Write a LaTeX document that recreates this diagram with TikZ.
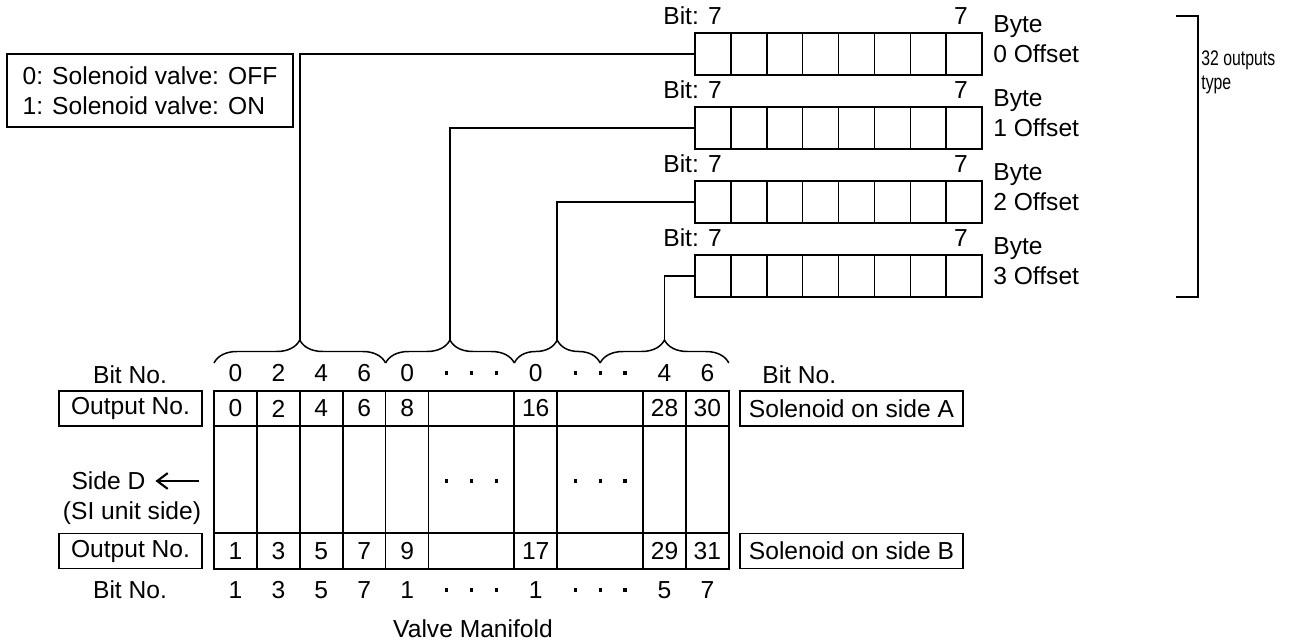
\documentclass[tikz,border=0pt]{standalone}
\usepackage{fontspec}
\setmainfont{Liberation Sans}
\newfontfamily\narrowfont[FakeStretch=0.75]{Liberation Sans}
\usetikzlibrary{arrows.meta, positioning, decorations.pathreplacing}

\newcommand{\tridots}{\rule{1.8pt}{1.8pt}\hspace{12.4pt}\rule{1.8pt}{1.8pt}\hspace{12.4pt}\rule{1.8pt}{1.8pt}}

\begin{document}
\begin{tikzpicture}[
    x=0.02cm, y=-0.02cm,
    txt/.style={font=\fontsize{14}{17}\selectfont, inner sep=0pt},
    tagbox/.style={draw, line width=0.85pt, txt, minimum height=0.7cm},
    bytebox/.style={draw, line width=0.85pt, minimum width=5.74cm, minimum height=0.84cm, inner sep=0pt},
    grid/.style={line width=1pt},
    link/.style={line width=0.85pt},
    curly/.style={decorate, decoration={brace, amplitude=0.46cm}, line width=0.85pt}
]
\useasboundingbox (0,0) rectangle (1298,641);

% legend
\node[tagbox, minimum width=5.72cm, minimum height=1.46cm, align=left] (legend) at (150,90.5) {0: Solenoid valve: OFF\\1: Solenoid valve: ON};

% byte boxes
\foreach \b/\yc in {0/54, 1/128, 2/202, 3/276} {
    \node[bytebox] (byte\b) at (838.5,\yc) {};
    \foreach \k in {1,...,7}
        \draw[link] ({695+35.875*\k},\yc-21) -- ({695+35.875*\k},\yc+21);
    \node[txt, anchor=west] (bitl\b) at (663,\yc-38) {Bit: 7};
    \node[txt] (bitr\b) at (961,\yc-38) {7};
    \node[txt, anchor=west, align=left] (offs\b) at (993,\yc-15) {Byte\\\b\ Offset};
}

% 32 outputs bracket
\draw[link] (1176,16) -- (1198,16) -- (1198,297) -- (1176,297);
\node[anchor=west, align=left, inner sep=0pt, font=\narrowfont\fontsize{12}{13.5}\selectfont] (kind) at (1201,72) {32 outputs\\type};

% manifold
\draw[grid] (214,391) rectangle (728.8,569);
\draw[grid] (214,426) -- (728.8,426);
\draw[grid] (214,533) -- (728.8,533);
\foreach \k in {1,2,3,4,5,7,8,10,11}
    \draw[grid] ({214+42.9*\k},391) -- ({214+42.9*\k},569);

\foreach \n/\x in {0/235.5, 2/278.4, 4/321.3, 6/364.2, 8/407.1, 16/535.7, 28/664.5, 30/707.4}
    \node[txt] (outa\n) at (\x,408.5) {\n};
\foreach \n/\x in {1/235.5, 3/278.4, 5/321.3, 7/364.2, 9/407.1, 17/535.7, 29/664.5, 31/707.4}
    \node[txt] (outb\n) at (\x,551) {\n};

\foreach \t/\x [count=\i] in {0/235.5, 2/278.4, 4/321.3, 6/364.2, 0/407.1, 0/535.7, 4/664.5, 6/707.4}
    \node[txt] (bita\i) at (\x,373) {\t};
\foreach \t/\x [count=\i] in {1/235.5, 3/278.4, 5/321.3, 7/364.2, 1/407.1, 1/535.7, 5/664.5, 7/707.4}
    \node[txt] (bitb\i) at (\x,590) {\t};
\foreach \x [count=\i] in {471.4, 600.1} {
    \node[inner sep=0pt] (dotsa\i) at (\x,373) {\tridots};
    \node[inner sep=0pt] (dotsm\i) at (\x,481) {\tridots};
    \node[inner sep=0pt] (dotsb\i) at (\x,590) {\tridots};
}

% braces and links to the bytes
\foreach \a/\z [count=\i from 0] in {214/385.6, 385.6/514.3, 514.3/600.1, 600.1/728.8} {
    \draw[curly] (\a,363) -- (\z,363);
    \coordinate (tip\i) at ({(\a+\z)/2},340);
}
\foreach \i in {0,...,3}
    \draw[link] (byte\i.west) -| (tip\i);

% left labels
\node[txt] (bitnoa) at (130,375) {Bit No.};
\node[tagbox, minimum width=2.86cm] (outnoa) at (130.5,408.5) {Output No.};
\node[txt] (sided) at (108.5,481) {Side D};
\coordinate (sidetail) at (199,481);
\draw[line width=1.2pt, -{Straight Barb[length=6pt, width=9pt]}, shorten >=5.5pt] (sidetail) -- (sided.east);
\node[txt] (siunit) at (132,513) {(SI unit side)};
\node[tagbox, minimum width=2.86cm] (outnob) at (130.5,551) {Output No.};
\node[txt] (bitnob) at (130,590) {Bit No.};

% right labels
\node[txt, anchor=west] (bitnoc) at (762,375) {Bit No.};
\node[tagbox, minimum width=4.46cm] (sola) at (851.5,408.5) {Solenoid on side A};
\node[tagbox, minimum width=4.46cm] (solb) at (851.5,551) {Solenoid on side B};
\node[txt] (valve) at (473,629) {Valve Manifold};
\end{tikzpicture}
\end{document}
